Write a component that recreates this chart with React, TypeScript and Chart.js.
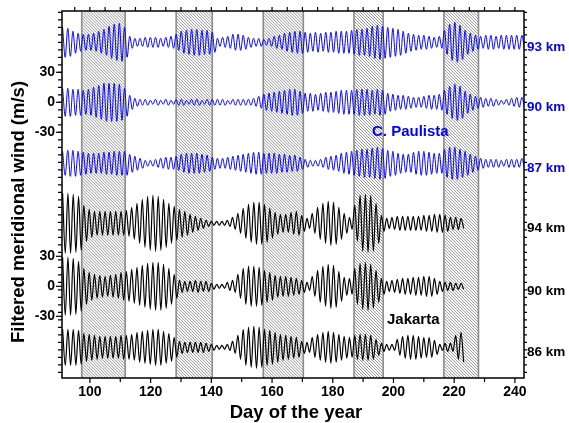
import React, { useEffect, useRef } from "react";
import { Chart, registerables } from "chart.js";

Chart.register(...registerables);

// ---------- data ----------
const X_MIN = 90.8;
const X_MAX = 243;
const X_TICKS = [100, 120, 140, 160, 180, 200, 220, 240];

// hatched intervals (day of year)
const BAND_STARTS = [97.3, 128.4, 157.1, 187.0, 216.6];
const BAND_ENDS = [111.6, 140.3, 170.3, 196.6, 228.0];

const SERIES_START = 91;
const BLUE_PERIOD = 1.7;
const BLACK_PERIOD = 1.75;

// vertical offsets of each trace (m/s units on the stacked axis)
const OFF_CP93 = 60;
const OFF_CP90 = 0;
const OFF_CP87 = -61;
const OFF_JK94 = -121;
const OFF_JK90 = -184;
const OFF_JK86 = -245;

// cycle amplitudes (m/s), one per wave cycle
const CP93 = [15, 14, 11, 9, 8, 8, 9, 11, 13, 16, 18, 19, 15, 6, 4, 4, 5, 5, 5, 4,
  5, 6, 8, 11, 12, 13, 13, 12, 12, 10, 4, 5, 6, 8, 8, 7, 5, 4, 4, 3,
  4, 6, 7, 9, 10, 11, 11, 10, 9, 10, 9, 10, 10, 11, 11, 11, 12, 13, 13, 14,
  16, 17, 16, 15, 14, 13, 11, 9, 8, 7, 7, 6, 5, 6, 12, 18, 20, 17, 12, 9,
  7, 6, 7, 7, 6, 7, 7, 7, 7, 7];
const CP90 = [14, 14, 13, 13, 12, 13, 15, 17, 19, 19, 19, 18, 14, 7, 4, 3, 3, 2, 3, 2,
  3, 2, 3, 3, 2, 3, 3, 2, 3, 3, 3, 3, 2, 3, 3, 3, 3, 4, 6, 8,
  9, 10, 11, 12, 13, 13, 11, 9, 9, 8, 9, 10, 10, 11, 12, 12, 12, 13, 13, 13,
  12, 13, 12, 9, 8, 7, 7, 6, 5, 5, 6, 7, 7, 8, 12, 16, 18, 16, 11, 8,
  6, 5, 4, 4, 3, 2, 3, 4, 5, 5];
const CP87 = [12, 13, 13, 12, 11, 10, 10, 10, 11, 11, 12, 12, 12, 9, 7, 5, 3, 3, 4, 5,
  6, 6, 7, 9, 10, 10, 10, 9, 8, 6, 5, 5, 6, 7, 8, 9, 10, 11, 11, 10,
  10, 10, 9, 9, 8, 8, 6, 4, 3, 3, 4, 6, 7, 8, 10, 11, 12, 13, 14, 14,
  15, 16, 15, 13, 12, 10, 9, 9, 11, 12, 12, 11, 10, 10, 14, 16, 16, 14, 12, 9,
  7, 5, 4, 4, 4, 3, 4, 4, 4, 5];
const JK94 = [30, 30, 29, 27, 18, 14, 12, 12, 12, 12, 12, 12, 13, 16, 20, 24, 27, 28, 27, 24,
  20, 17, 14, 12, 9, 7, 5, 3, 2, 2, 2, 3, 6, 10, 15, 19, 21, 21, 19, 15,
  11, 9, 9, 11, 12, 8, 5, 10, 16, 20, 22, 21, 16, 10, 6, 18, 28, 29, 28, 20,
  8, 5, 6, 7, 7, 7, 7, 7, 8, 8, 9, 9, 8, 6, 6, 5];
const JK90 = [29, 29, 28, 25, 18, 14, 12, 11, 10, 11, 12, 14, 15, 17, 19, 21, 23, 24, 24, 22,
  18, 12, 6, 5, 5, 6, 5, 5, 3, 2, 2, 4, 6, 12, 18, 20, 20, 19, 16, 14,
  11, 10, 10, 9, 8, 6, 4, 10, 16, 20, 22, 21, 15, 9, 8, 18, 23, 24, 22, 16,
  8, 5, 6, 7, 8, 8, 9, 9, 10, 10, 8, 5, 4, 4, 3, 3];
const JK86 = [18, 18, 18, 17, 14, 13, 12, 11, 11, 11, 11, 12, 12, 13, 15, 16, 17, 18, 18, 16,
  14, 10, 6, 5, 5, 5, 5, 4, 3, 2, 2, 3, 6, 12, 18, 20, 21, 20, 18, 17,
  15, 13, 12, 11, 10, 6, 5, 10, 13, 15, 16, 15, 13, 11, 10, 12, 13, 13, 12, 8,
  4, 3, 3, 8, 11, 12, 12, 11, 10, 10, 7, 3, 4, 4, 12, 15];

// y tick labels
const Y_TICK_VALUES = [30, 0, -30];
const Y_TICK_GROUP_ZEROS = [OFF_CP90, OFF_JK90];

const STATION_LABELS = ["93 km", "90 km", "87 km", "94 km", "90 km", "86 km"];
const STATION_OFFSETS = [OFF_CP93, OFF_CP90, OFF_CP87, OFF_JK94, OFF_JK90, OFF_JK86];

const BLUE = "#0000ff";
const FONT = "'Liberation Sans', Arial, sans-serif";

function buildTrace(amps: number[], offset: number, period: number) {
  const pts: { x: number; y: number }[] = [];
  amps.forEach((a, i) => {
    pts.push({ x: SERIES_START + i * period, y: offset + a });
    pts.push({ x: SERIES_START + (i + 0.5) * period, y: offset - a });
  });
  return pts;
}

const decorPlugin = {
  id: "decor",
  beforeDatasetsDraw(chart: any) {
    const { ctx, chartArea } = chart;
    const xs = chart.scales.x;
    const { top, bottom } = chartArea;
    const h = bottom - top;
    BAND_STARTS.forEach((s, k) => {
      const x1 = xs.getPixelForValue(s);
      const x2 = xs.getPixelForValue(BAND_ENDS[k]);
      ctx.save();
      ctx.beginPath();
      ctx.rect(x1, top, x2 - x1, h);
      ctx.clip();
      ctx.fillStyle = "#ffffff";
      ctx.fillRect(x1, top, x2 - x1, h);
      ctx.strokeStyle = "#7a7a7a";
      ctx.lineWidth = 0.8;
      ctx.beginPath();
      for (let p = x1 - h - 3; p < x2 + 3; p += 3) {
        ctx.moveTo(p, top);
        ctx.lineTo(p + h, bottom);
      }
      ctx.stroke();
      ctx.restore();
      ctx.save();
      ctx.strokeStyle = "#8c8c8c";
      ctx.lineWidth = 1.6;
      ctx.beginPath();
      ctx.moveTo(x1, top);
      ctx.lineTo(x1, bottom);
      ctx.moveTo(x2, top);
      ctx.lineTo(x2, bottom);
      ctx.stroke();
      ctx.restore();
    });
  },
  afterDraw(chart: any) {
    const { ctx, chartArea } = chart;
    const xs = chart.scales.x;
    const ys = chart.scales.y;
    const { left, right, top, bottom } = chartArea;
    ctx.save();
    ctx.strokeStyle = "#000";
    ctx.lineWidth = 1.5;
    ctx.strokeRect(left, top, right - left, bottom - top);

    // x ticks
    ctx.lineWidth = 1.2;
    ctx.beginPath();
    for (let d = 95; d <= X_MAX; d += 5) {
      const x = xs.getPixelForValue(d);
      ctx.moveTo(x, top);
      ctx.lineTo(x, top - 4);
      if (d % 10 === 0) {
        ctx.moveTo(x, bottom);
        ctx.lineTo(x, bottom + (d % 20 === 0 ? 5 : 4));
      }
    }
    // y ticks (left and right)
    for (let v = 0; v <= ys.max; v += 7.5) {
      const y = ys.getPixelForValue(v);
      ctx.moveTo(left, y);
      ctx.lineTo(left - 4, y);
      ctx.moveTo(right, y);
      ctx.lineTo(right + 3, y);
    }
    for (let v = -7.5; v >= ys.min; v -= 7.5) {
      const y = ys.getPixelForValue(v);
      ctx.moveTo(left, y);
      ctx.lineTo(left - 4, y);
      ctx.moveTo(right, y);
      ctx.lineTo(right + 3, y);
    }
    ctx.stroke();

    // x tick labels
    ctx.fillStyle = "#000";
    ctx.font = `bold 14px ${FONT}`;
    ctx.textAlign = "center";
    ctx.textBaseline = "middle";
    X_TICKS.forEach((t) => {
      ctx.fillText(String(t), xs.getPixelForValue(t), 392);
    });

    // y tick labels
    ctx.textAlign = "right";
    Y_TICK_GROUP_ZEROS.forEach((z) => {
      Y_TICK_VALUES.forEach((v) => {
        const y = ys.getPixelForValue(z + v);
        ctx.fillText(String(v), 55, y);
        ctx.beginPath();
        ctx.moveTo(left, y);
        ctx.lineTo(left - 6, y);
        ctx.stroke();
      });
    });

    // axis titles
    ctx.font = `bold 18.5px ${FONT}`;
    ctx.textAlign = "center";
    ctx.fillText("Day of the year", 296, 413);
    ctx.save();
    ctx.translate(19, 212);
    ctx.rotate(-Math.PI / 2);
    ctx.fillText("Filtered meridional wind (m/s)", 0, 0);
    ctx.restore();

    // station height labels
    ctx.font = `bold 13.5px ${FONT}`;
    ctx.textAlign = "left";
    STATION_LABELS.forEach((lab, i) => {
      ctx.fillStyle = i < 3 ? BLUE : "#000";
      ctx.fillText(lab, right + 3, ys.getPixelForValue(STATION_OFFSETS[i]) + 5);
    });

    // site names
    ctx.font = `bold 15px ${FONT}`;
    ctx.fillStyle = BLUE;
    ctx.fillText("C. Paulista", 372, 132);
    ctx.fillStyle = "#000";
    ctx.fillText("Jakarta", 387, 320);
    ctx.restore();
  },
};

export default function App() {
  const ref = useRef<HTMLCanvasElement>(null);
  useEffect(() => {
    if (!ref.current) return;
    const mk = (amps: number[], off: number, period: number, color: string, w: number) => ({
      data: buildTrace(amps, off, period),
      borderColor: color,
      borderWidth: w,
      pointRadius: 0,
      fill: false,
      cubicInterpolationMode: "monotone" as const,
    });
    const chart = new Chart(ref.current, {
      type: "line",
      data: {
        datasets: [
          mk(CP93, OFF_CP93, BLUE_PERIOD, BLUE, 1.0),
          mk(CP90, OFF_CP90, BLUE_PERIOD, BLUE, 1.0),
          mk(CP87, OFF_CP87, BLUE_PERIOD, BLUE, 1.0),
          mk(JK94, OFF_JK94, BLACK_PERIOD, "#000", 1.2),
          mk(JK90, OFF_JK90, BLACK_PERIOD, "#000", 1.2),
          mk(JK86, OFF_JK86, BLACK_PERIOD, "#000", 1.2),
        ],
      },
      options: {
        animation: false,
        responsive: false,
        layout: { padding: { left: 62, right: 45, top: 11, bottom: 45 } },
        plugins: { legend: { display: false }, tooltip: { enabled: false } },
        scales: {
          x: { type: "linear", min: X_MIN, max: X_MAX, display: false },
          y: { type: "linear", min: -275.7, max: 91.3, display: false },
        },
      },
      plugins: [decorPlugin],
    });
    return () => chart.destroy();
  }, []);
  return (
    <div style={{ position: "fixed", left: 0, top: 0, width: 569, height: 423, background: "#fff" }}>
      <canvas ref={ref} width={569} height={423} />
    </div>
  );
}
